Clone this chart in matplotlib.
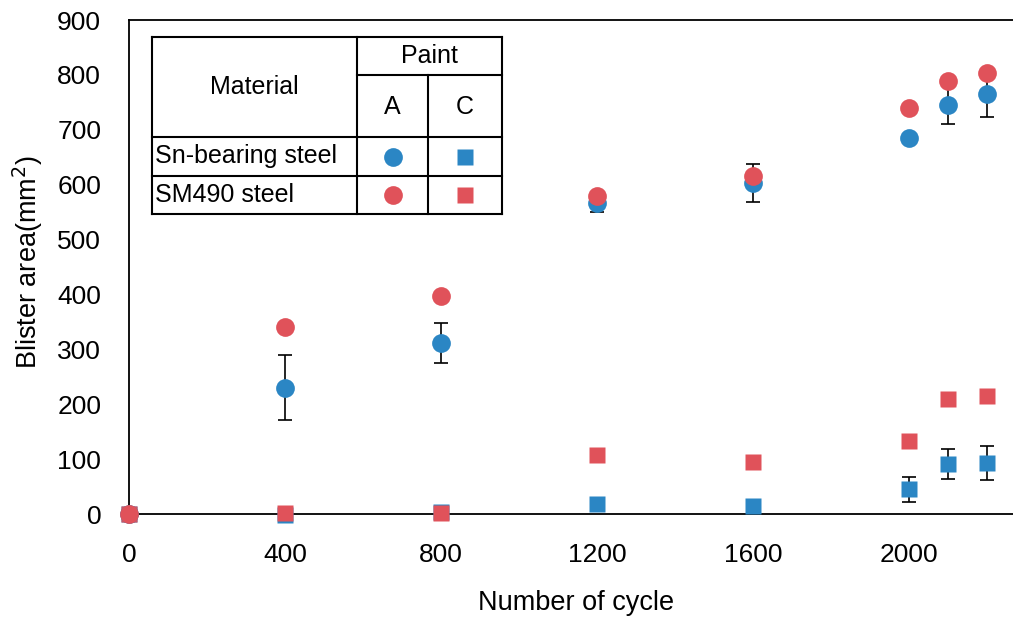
import matplotlib
matplotlib.use('Agg')
import matplotlib.pyplot as plt
from matplotlib.lines import Line2D

plt.rcParams['font.family'] = ['Liberation Sans', 'DejaVu Sans']

cycles = [0, 400, 800, 1200, 1600, 2000, 2100, 2200]

# paint A (circles)
sn_a = [0, 230, 312, 567, 603, 685, 745, 765]
sn_a_err = [0, 59, 36, 16, 34, 0, 35, 42]
sm_a = [0, 341, 398, 580, 615, 739, 789, 804]

# paint C (squares)
sn_c = [0, -1, 3, 18, 15, 45, 91, 93]
sn_c_err = [0, 0, 0, 0, 0, 23, 28, 31]
sm_c = [0, 1, 1, 107, 94, 133, 209, 215]

blue = '#2b86c4'
red = '#e0525a'

W, H = 1013, 623
fig = plt.figure(figsize=(W / 100, H / 100), dpi=100)

ax_l, ax_r, ax_b, ax_t = 129, 1020, 514, 20
ax = fig.add_axes([ax_l / W, (H - ax_b) / H, (ax_r - ax_l) / W, (ax_b - ax_t) / H])
ax.set_xlim(0, (ax_r - ax_l) / 0.39)
ax.set_ylim(0, 900)
ax.set_xticks([0, 400, 800, 1200, 1600, 2000])
ax.set_yticks(range(0, 901, 100))
ax.tick_params(length=0, labelsize=19)
ax.tick_params(axis='x', pad=21)
ax.tick_params(axis='y', pad=20)
ax.spines['right'].set_visible(False)
for s in ['left', 'top', 'bottom']:
    ax.spines[s].set_linewidth(1.3)

ax.errorbar(cycles, sn_a, yerr=sn_a_err, fmt='none', ecolor='black', elinewidth=1.2,
            capsize=5, capthick=1.2, zorder=2, clip_on=False)
ax.errorbar(cycles, sn_c, yerr=sn_c_err, fmt='none', ecolor='black', elinewidth=1.2,
            capsize=5, capthick=1.2, zorder=2, clip_on=False)
ax.plot(cycles, sn_c, 's', color=blue, ms=12, mec='none', zorder=3, clip_on=False)
ax.plot(cycles, sm_c, 's', color=red, ms=12, mec='none', zorder=4, clip_on=False)
ax.plot(cycles, sn_a, 'o', color=blue, ms=13.5, mec='none', zorder=5, clip_on=False)
ax.plot(cycles, sm_a, 'o', color=red, ms=13.5, mec='none', zorder=6, clip_on=False)

ax.set_xlabel('Number of cycle', fontsize=19.5)
ax.set_ylabel('Blister area(mm$^2$)', fontsize=19.5)
ax.xaxis.set_label_coords((576 - ax_l) / (ax_r - ax_l), -(603 - ax_b) / (ax_b - ax_t))
ax.xaxis.label.set_va('center')
ax.yaxis.set_label_coords(-(ax_l - 28) / (ax_r - ax_l), (ax_b - 262) / (ax_b - ax_t))
ax.yaxis.label.set_va('center')

# legend table drawn in pixel coordinates
tab = fig.add_axes([0, 0, 1, 1], facecolor='none')
tab.set_xlim(0, W)
tab.set_ylim(H, 0)
tab.axis('off')

x0, x1, x2, x3 = 152, 357, 428, 502
y0, y1, y2, y3, y4 = 37, 75, 137, 176, 214
segs = [
    ((x0, x3), (y0, y0)), ((x1, x3), (y1, y1)), ((x0, x3), (y2, y2)),
    ((x0, x3), (y3, y3)), ((x0, x3), (y4, y4)),
    ((x0, x0), (y0, y4)), ((x1, x1), (y0, y4)), ((x2, x2), (y1, y4)), ((x3, x3), (y0, y4)),
]
for xs, ys in segs:
    tab.add_line(Line2D(xs, ys, color='black', lw=1.5))

fs = 18
tab.text((x0 + x1) / 2, (y0 + y2) / 2, 'Material', ha='center', va='center', fontsize=fs)
tab.text((x1 + x3) / 2, (y0 + y1) / 2, 'Paint', ha='center', va='center', fontsize=fs)
tab.text((x1 + x2) / 2, (y1 + y2) / 2 + 1, 'A', ha='center', va='center', fontsize=fs)
tab.text((x2 + x3) / 2, (y1 + y2) / 2 + 1, 'C', ha='center', va='center', fontsize=fs)
tab.text(x0 + 3, (y2 + y3) / 2, 'Sn-bearing steel', ha='left', va='center', fontsize=fs)
tab.text(x0 + 3, (y3 + y4) / 2, 'SM490 steel', ha='left', va='center', fontsize=fs)
ca, cc = (x1 + x2) / 2, (x2 + x3) / 2
r1, r2 = (y2 + y3) / 2, (y3 + y4) / 2
tab.plot([ca], [r1], 'o', color=blue, ms=13.5, mec='none')
tab.plot([cc], [r1], 's', color=blue, ms=12, mec='none')
tab.plot([ca], [r2], 'o', color=red, ms=13.5, mec='none')
tab.plot([cc], [r2], 's', color=red, ms=12, mec='none')

fig.savefig('out.png', dpi=100)
